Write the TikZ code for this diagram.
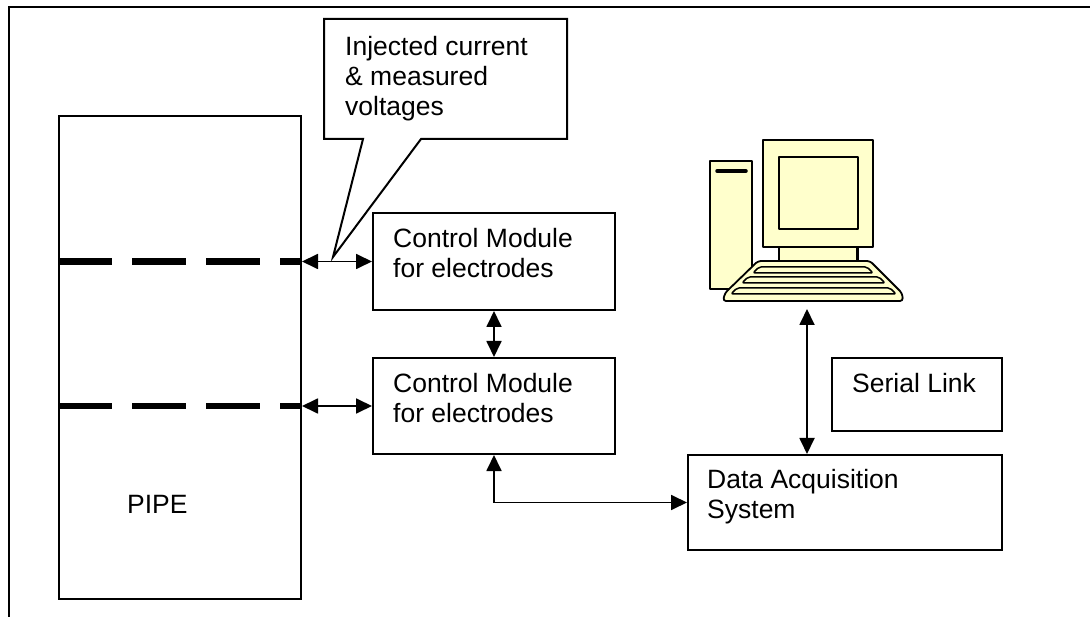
\documentclass[tikz,border=0pt]{standalone}
\usepackage{fontspec}
\setmainfont{Liberation Sans}
\usetikzlibrary{arrows.meta,calc}
\definecolor{pcyellow}{HTML}{FFFFCC}

\tikzset{
  frameline/.style={line width=2.2pt},
  block/.style={draw, line width=2pt, inner sep=0pt, anchor=north west, fill=white},
  txt/.style={inner sep=0pt, anchor=base west, font=\fontsize{26.5}{30}\selectfont},
  link/.style={line width=1.8pt,
    {Triangle[length=16pt,width=15pt]}-{Triangle[length=16pt,width=15pt]}},
  electrode/.style={line width=6.5pt, dash pattern=on 53.5pt off 20.5pt},
  hw/.style={draw, line width=1.8pt, fill=pcyellow, line join=round},
  keyrow/.style={hw, line width=1.5pt, rounded corners=2pt},
}

\newcommand{\twolines}[2]{\begin{tabular}[t]{@{}l@{}}#1\\#2\end{tabular}}

\begin{document}
\begin{tikzpicture}[x=1pt,y=-1pt]
\useasboundingbox (0,0) rectangle (1090,617);

% outer frame (top and left edges only)
\draw[frameline] (9,617) -- (9,7) -- (1090,7);

% pipe with its two electrode rings
\node[block, minimum width=242pt, minimum height=483pt] (pipe) at (58,115) {};
\node[txt] (pipetxt) at (127,513) {PIPE};

% control modules
\node[block, minimum width=242pt, minimum height=97pt] (cm1) at (372,212) {};
\node[txt] (cm1txt) at ($(cm1.north west)+(21,36)$) {\twolines{Control Module}{for electrodes}};
\node[block, minimum width=242pt, minimum height=96pt] (cm2) at (372,357) {};
\node[txt] (cm2txt) at ($(cm2.north west)+(21,36)$) {\twolines{Control Module}{for electrodes}};

\draw[electrode] (cm1.west -| pipe.west) -- (cm1.west -| pipe.east);
\draw[electrode] (cm2.west -| pipe.west) -- (cm2.west -| pipe.east);

% data acquisition and serial link
\node[block, minimum width=314pt, minimum height=95pt] (daq) at (687,454) {};
\node[txt] (daqtxt) at ($(daq.north west)+(20,35)$) {\twolines{Data Acquisition}{System}};
\node[block, minimum width=170pt, minimum height=73pt] (serial) at (831,357) {};
\node[txt] (serialtxt) at ($(serial.north west)+(21,36)$) {Serial Link};

% callout
\coordinate (tip) at (333,257);
\draw[line width=2pt, fill=white, line join=miter]
  (324,19) -- (567,19) -- (567,139) -- (421,139) -- (tip) -- (363,139) -- (324,139) -- cycle;
\node[txt] (callout) at (345,56) {\begin{tabular}[t]{@{}l@{}}Injected current\\\& measured\\voltages\end{tabular}};

% computer
\draw[hw] (710,161) rectangle (752,289);
\draw[line width=3.5pt, line cap=round] (717,171) -- (746,171);
\draw[hw] (763,140) rectangle (873,247);
\draw[hw] (779,157) rectangle (858,229);
\draw[hw] (779,247) rectangle (858,263);
\draw[line width=3pt] (857,247) -- (857,262);
\draw[hw, rounded corners=3pt]
  (758,261) -- (870,261) -- (902,293) -- (903,301) -- (723,301) -- (725,293) -- cycle;
\draw[keyrow] (759,267) -- (867,267) -- (873,273) -- (753,273) -- cycle;
\draw[keyrow] (748,277) -- (879,277) -- (885,283) -- (742,283) -- cycle;
\draw[keyrow] (737,288) -- (890,288) -- (896,294) -- (731,294) -- cycle;
\coordinate (pcbase) at (807,309);

% connections
\draw[link] (cm1.west -| pipe.east) -- (cm1.west);
\draw[link] (cm2.west -| pipe.east) -- (cm2.west);
\draw[link] (cm1.south) -- (cm2.north);
\draw[link] (cm2.south) |- (daq.west);
\draw[link] (pcbase) -- (pcbase |- daq.north);
\end{tikzpicture}
\end{document}
